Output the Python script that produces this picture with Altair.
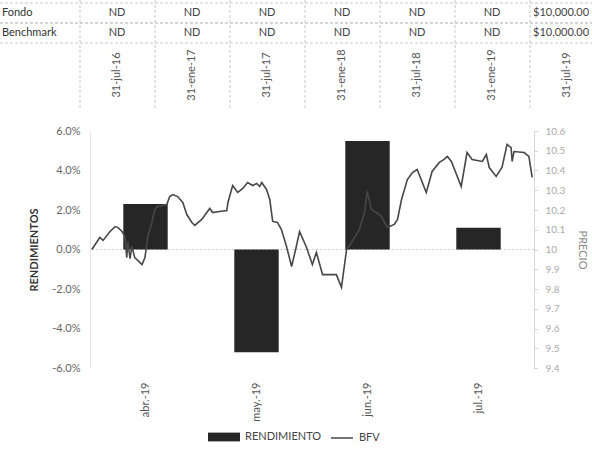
import altair as alt
import pandas as pd

# ---- summary table above the chart ----
filas = ["Fondo", "Benchmark"]
fechas = ["31-jul-16", "31-ene-17", "31-jul-17", "31-ene-18",
          "31-jul-18", "31-ene-19", "31-jul-19"]
fondo = ["ND", "ND", "ND", "ND", "ND", "ND", "$10,000.00"]
benchmark = ["ND", "ND", "ND", "ND", "ND", "ND", "$10,000.00"]

# ---- monthly returns (bars) ----
meses = ["abr.-19", "may.-19", "jun.-19", "jul.-19"]
rendimiento = [0.023, -0.052, 0.055, 0.011]

# ---- BFV price (line), days counted from 1 April 2019 ----
dias = [0.5, 2.7, 3.6, 5.5, 6.9, 7.7, 8.8, 9.6, 10.1, 10.4, 11.0, 11.5, 12.3,
        14.3, 15.1, 15.9, 17.0, 17.8, 18.6, 21.1, 21.9, 22.8, 24.1, 25.5, 26.6,
        28.0, 28.8, 30.7, 32.9, 33.7, 35.6, 37.6, 37.9, 39.2, 40.6, 42.0, 43.3,
        44.7, 45.8, 46.6, 47.2, 48.5, 49.4, 50.2, 51.5, 52.6, 54.0, 55.4, 56.5,
        57.6, 59.5, 61.1, 62.2, 63.9, 65.8, 67.7, 69.1, 70.5, 71.8, 74.0, 75.4,
        76.2, 77.3, 78.7, 80.1, 81.7, 83.6, 84.5, 85.6, 87.2, 88.6, 89.9, 92.4,
        94.0, 96.0, 97.3, 98.2, 99.3, 102.0, 103.6, 105.0, 107.8, 108.9, 109.7,
        111.6, 113.2, 114.6, 115.7, 116.0, 116.5, 119.3, 120.6, 121.5]
precio = [10.000, 10.061, 10.046, 10.091, 10.116, 10.111, 10.091, 10.066, 9.959,
          10.041, 9.954, 10.015, 9.959, 9.924, 9.959, 10.066, 10.137, 10.203,
          10.218, 10.228, 10.268, 10.278, 10.268, 10.238, 10.177, 10.137, 10.122,
          10.152, 10.208, 10.187, 10.192, 10.197, 10.238, 10.324, 10.289, 10.309,
          10.339, 10.324, 10.334, 10.319, 10.339, 10.304, 10.253, 10.142, 10.137,
          10.101, 10.015, 9.914, 10.000, 10.091, 10.010, 9.924, 9.985, 9.873,
          9.873, 9.873, 9.808, 10.000, 10.035, 10.101, 10.187, 10.294, 10.203,
          10.187, 10.167, 10.111, 10.127, 10.152, 10.253, 10.354, 10.390, 10.405,
          10.289, 10.395, 10.441, 10.456, 10.471, 10.446, 10.319, 10.491, 10.456,
          10.446, 10.481, 10.415, 10.370, 10.415, 10.532, 10.516, 10.446, 10.496,
          10.491, 10.471, 10.365]

FONT = "Lato"

# ---------------- table ----------------
tabla_df = pd.DataFrame({
    "fila": [f for f in filas for _ in fechas],
    "fecha": fechas * 2,
    "valor": fondo + benchmark,
})
fechas_df = pd.DataFrame({"fecha": fechas})
filas_df = pd.DataFrame({"fila": filas})

x_tabla = alt.X("fecha:N", axis=None,
                scale=alt.Scale(type="point", domain=fechas, range=[27, 477], padding=0))
y_tabla = alt.Y("fila:N", axis=None,
                scale=alt.Scale(type="point", domain=filas, range=[-118, -98], padding=0))

# "ND" cells are centred; amounts start at the left edge of their cell
valores_nd = alt.Chart(tabla_df).transform_filter(alt.datum.valor == "ND").mark_text(
    fontSize=11, color="#444").encode(x=x_tabla, y=y_tabla, text="valor:N")
valores_monto = alt.Chart(tabla_df).transform_filter(alt.datum.valor != "ND").mark_text(
    align="left", dx=-34, fontSize=11, color="#444").encode(x=x_tabla, y=y_tabla, text="valor:N")
etiquetas_fecha = alt.Chart(fechas_df).mark_text(angle=270, fontSize=11, color="#555").encode(
    x=x_tabla, y=alt.value(-56), text="fecha:N")
etiquetas_fila = alt.Chart(filas_df).mark_text(align="left", fontSize=11, color="#333").encode(
    x=alt.value(-88), y=y_tabla, text="fila:N")
sep_v = alt.Chart(fechas_df).mark_rule(xOffset=-37, strokeDash=[3, 2], color="#c8c8c8").encode(
    x=x_tabla, y=alt.value(-131), y2=alt.value(-23))
sep_h_top = alt.Chart(filas_df).mark_rule(yOffset=-10, strokeDash=[3, 2], color="#c8c8c8").encode(
    y=y_tabla, x=alt.value(-90), x2=alt.value(502))
sep_h_bot = alt.Chart(filas_df).mark_rule(yOffset=10, strokeDash=[3, 2], color="#c8c8c8").encode(
    y=y_tabla, x=alt.value(-90), x2=alt.value(502))

tabla = alt.layer(sep_v, sep_h_top, sep_h_bot, etiquetas_fila,
                  valores_nd, valores_monto, etiquetas_fecha)

# ---------------- bars (monthly returns) ----------------
barras_df = pd.DataFrame({"mes": meses, "rendimiento": rendimiento, "serie": "RENDIMIENTO"})
cero_df = pd.DataFrame({"rendimiento": [0.0]})

eje_pct = alt.Axis(
    orient="left", values=[-0.06, -0.04, -0.02, 0, 0.02, 0.04, 0.06],
    labelExpr="replace(format(datum.value, '.1%'), '\u2212', '-')",
    labelOverlap=False,
    title="RENDIMIENTOS", titleFontWeight="bold", titleFontSize=11,
    titleColor="#333", titlePadding=12, labelColor="#666", labelFontSize=11,
    labelPadding=10, ticks=False, grid=False, domainColor="#e6e6e6",
)
y_pct = alt.Y("rendimiento:Q", scale=alt.Scale(domain=[-0.06, 0.06], nice=False), axis=eje_pct)

x_mes = alt.X(
    "mes:N", sort=meses,
    scale=alt.Scale(domain=meses, paddingInner=0.6, paddingOuter=0.3),
    axis=alt.Axis(orient="bottom", labelAngle=-90, labelPadding=14, ticks=False,
                  domain=False, grid=False, title=None, labelColor="#555",
                  labelFontSize=11),
)

# dotted horizontal axis line at 0 %
cero = alt.Chart(cero_df).mark_rule(color="#d0d0d0", strokeDash=[2, 2]).encode(y=y_pct)
barras = alt.Chart(barras_df).mark_bar().encode(
    x=x_mes,
    y=y_pct,
    color=alt.Color(
        "serie:N",
        scale=alt.Scale(domain=["RENDIMIENTO"], range=["#262626"]),
        legend=alt.Legend(
            orient="none", legendX=126, legendY=298, title=None, padding=0,
            symbolType="M-2,-0.55L2,-0.55L2,0.55L-2,0.55Z", symbolSize=256,
            symbolStrokeWidth=0, labelOffset=13, labelFontSize=11, labelColor="#444",
        ),
    ),
)
capa_barras = alt.layer(cero, barras)

# ---------------- line (price) ----------------
linea_df = pd.DataFrame({"dia": dias, "precio": precio, "serie": "BFV"})
linea = alt.Chart(linea_df).mark_line(strokeWidth=1.6).encode(
    x=alt.X("dia:Q", scale=alt.Scale(domain=[0, 122], nice=False), axis=None),
    y=alt.Y(
        "precio:Q",
        scale=alt.Scale(domain=[9.4, 10.6], nice=False, zero=False),
        axis=alt.Axis(
            orient="right",
            values=[9.4, 9.5, 9.6, 9.7, 9.8, 9.9, 10.0, 10.1, 10.2, 10.3, 10.4, 10.5, 10.6],
            format="~g", labelOverlap=False, title="PRECIO", titleFontWeight="normal",
            titleFontSize=11, titleColor="#888", titlePadding=12, labelColor="#aaa",
            labelFontSize=10, labelPadding=8, tickColor="#cccccc", tickSize=3,
            domainColor="#d8d8d8", grid=False,
        ),
    ),
    stroke=alt.Stroke(
        "serie:N",
        scale=alt.Scale(domain=["BFV"], range=["#474747"]),
        legend=alt.Legend(
            orient="none", legendX=240, legendY=295, title=None, padding=0,
            symbolType="stroke", symbolSize=484, symbolStrokeWidth=1.5,
            labelOffset=5, labelFontSize=11, labelColor="#444",
        ),
    ),
)

chart = (
    alt.layer(tabla, capa_barras, linea)
    .resolve_scale(x="independent", y="independent")
    .properties(
        width=444, height=237,
        autosize=alt.AutoSizeParams(type="none"),
        padding={"left": 90, "top": 131, "right": 58, "bottom": 82},
    )
    .configure(font=FONT)
    .configure_view(stroke=None)
)

chart.save("out.html", embed_options={"renderer": "svg", "actions": False})
